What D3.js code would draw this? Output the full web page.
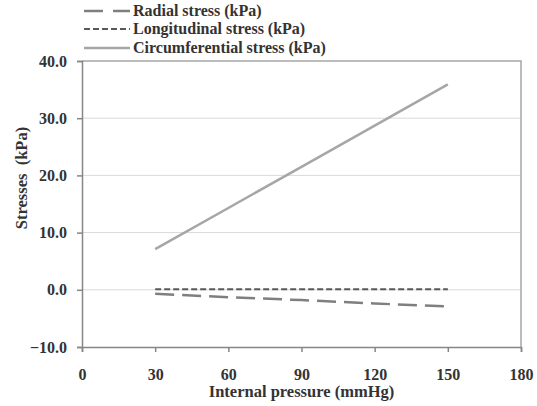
<!DOCTYPE html>
<html>
<head>
<meta charset="utf-8">
<script src="https://cdn.jsdelivr.net/npm/d3@7"></script>
<style>
  body { margin: 0; background: #fff; }
  text { font-family: "Liberation Serif", "Times New Roman", serif; font-weight: bold; fill: #333; }
</style>
</head>
<body>
<div id="chart"></div>
<script>
// data
var pressure = [30, 60, 90, 120, 150];
var radial = [-0.7, -1.3, -1.8, -2.4, -2.9];
var longitudinal = [0.1, 0.1, 0.1, 0.1, 0.1];
var circumferential = [7.1, 14.3, 21.5, 28.7, 35.9];
var xTicks = [0, 30, 60, 90, 120, 150, 180];
var yTicks = [-10, 0, 10, 20, 30, 40];

var series = [
  {name: "Radial stress (kPa)", values: radial, color: "#7f7f7f", width: 2.5, dash: "19,8", legendDash: "19,10"},
  {name: "Longitudinal stress (kPa)", values: longitudinal, color: "#595959", width: 2, dash: "6,3", legendDash: "6,3"},
  {name: "Circumferential stress (kPa)", values: circumferential, color: "#a6a6a6", width: 2.5, dash: null, legendDash: null}
];

// set the dimensions and margins of the graph
var margin = {top: 61, right: 16, bottom: 59, left: 82},
    width = 537 - margin.left - margin.right,
    height = 406 - margin.top - margin.bottom;

var svg = d3.select("#chart")
  .append("svg")
    .attr("width", 537)
    .attr("height", 406)
  .append("g")
    .attr("transform", "translate(" + margin.left + "," + margin.top + ")");

var x = d3.scaleLinear().domain([0, 180]).range([0, width]);
var y = d3.scaleLinear().domain([-10, 40]).range([height, 0]);

// gridlines
svg.selectAll(".grid")
  .data(yTicks.filter(function(d) { return d > -10 && d < 40; }))
  .enter()
  .append("line")
    .attr("x1", 0)
    .attr("x2", width)
    .attr("y1", function(d) { return y(d); })
    .attr("y2", function(d) { return y(d); })
    .attr("stroke", "#d9d9d9")
    .attr("stroke-width", 1);

// frame top and right
svg.append("path")
  .attr("d", "M0," + y(40) + "H" + x(180) + "V" + y(-10))
  .attr("fill", "none")
  .attr("stroke", "#a6a6a6")
  .attr("stroke-width", 1.5);

// X axis
var xAxis = svg.append("g")
  .attr("transform", "translate(0," + height + ")")
  .call(d3.axisBottom(x).tickValues(xTicks).tickSize(5).tickPadding(17));
xAxis.selectAll("text").style("font-size", "16px");

// Y axis
var yAxis = svg.append("g")
  .call(d3.axisLeft(y).tickValues(yTicks).tickSize(5).tickPadding(10)
    .tickFormat(d3.format(".1f")));
yAxis.selectAll("text").style("font-size", "16px");

svg.selectAll(".domain, .tick line")
  .attr("stroke", "#868686")
  .attr("stroke-width", 1.5);

// lines
var line = d3.line()
  .x(function(d, i) { return x(pressure[i]); })
  .y(function(d) { return y(d); });

series.forEach(function(s) {
  svg.append("path")
    .datum(s.values)
    .attr("d", line)
    .attr("fill", "none")
    .attr("stroke", s.color)
    .attr("stroke-width", s.width)
    .attr("stroke-dasharray", s.dash);
});

// axis titles
svg.append("text")
  .attr("x", x(90))
  .attr("y", height + 50)
  .attr("text-anchor", "middle")
  .style("font-size", "16.5px")
  .text("Internal pressure (mmHg)");

svg.append("text")
  .attr("transform", "translate(" + (-55) + "," + (178 - margin.top) + ") rotate(-90)")
  .attr("text-anchor", "middle")
  .style("font-size", "16.5px")
  .attr("xml:space", "preserve")
  .text("Stresses  (kPa)");

// legend
var legend = d3.select("svg").append("g");
var rowY = [11, 29, 48];
series.forEach(function(s, i) {
  legend.append("line")
    .attr("x1", 84)
    .attr("x2", 130)
    .attr("y1", rowY[i])
    .attr("y2", rowY[i])
    .attr("stroke", s.color)
    .attr("stroke-width", s.width)
    .attr("stroke-dasharray", s.legendDash);
  legend.append("text")
    .attr("x", 133)
    .attr("y", rowY[i] + 5)
    .style("font-size", "16px")
    .text(s.name);
});
</script>
</body>
</html>
